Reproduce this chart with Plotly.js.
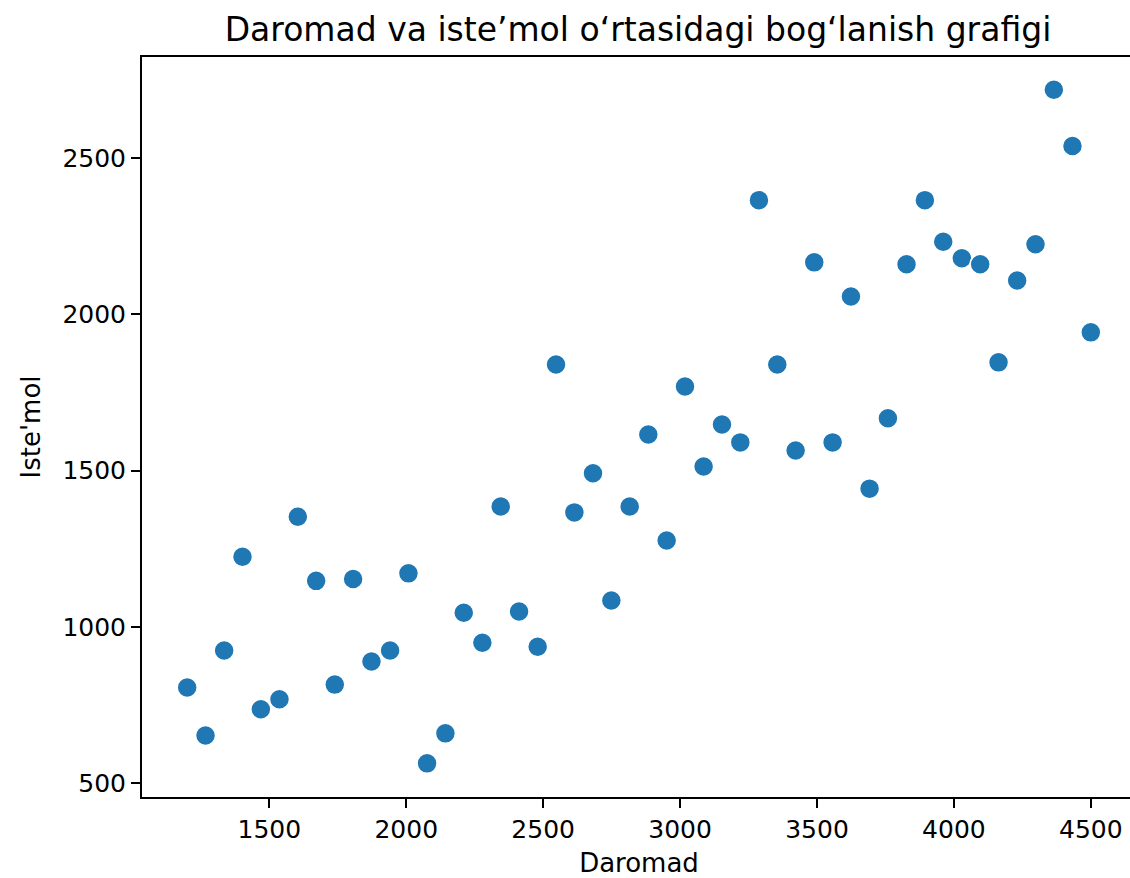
<!DOCTYPE html>
<html>
<head>
<meta charset="utf-8">
<script src="https://cdn.plot.ly/plotly-3.0.1.min.js"></script>
<style>
  html, body { margin: 0; padding: 0; overflow: hidden; background: #fff; }
  #chart { width: 1140px; height: 878px; }
</style>
</head>
<body>
<div id="chart"></div>
<script>
// Daromad (income) values
const daromad = [
  1200, 1267, 1335, 1402, 1469, 1537, 1604, 1671, 1739, 1806,
  1873, 1941, 2008, 2076, 2143, 2210, 2278, 2345, 2412, 2480,
  2547, 2614, 2682, 2749, 2816, 2884, 2951, 3018, 3086, 3153,
  3220, 3288, 3355, 3422, 3490, 3557, 3624, 3692, 3759, 3827,
  3894, 3961, 4029, 4096, 4163, 4231, 4298, 4365, 4433, 4500
];
// Iste'mol (consumption) values
const istemol = [
  806, 652, 924, 1224, 736, 768, 1352, 1147, 815, 1153,
  889, 924, 1171, 563, 659, 1045, 949, 1385, 1049, 936,
  1839, 1366, 1491, 1084, 1385, 1615, 1276, 1769, 1513, 1647,
  1590, 2365, 1839, 1564, 2166, 1590, 2057, 1442, 1667, 2160,
  2365, 2232, 2179, 2160, 1846, 2108, 2224, 2718, 2538, 1942
];
const xTicks = [1500, 2000, 2500, 3000, 3500, 4000, 4500];
const yTicks = [500, 1000, 1500, 2000, 2500];

const font = 'DejaVu Sans, sans-serif';

const trace = {
  type: 'scatter',
  mode: 'markers',
  x: daromad,
  y: istemol,
  marker: { color: '#1f77b4', size: 20, line: { color: '#ffffff', width: 1.5 } },
  hoverinfo: 'x+y'
};

const layout = {
  width: 1140,
  height: 878,
  margin: { l: 142, r: 4, t: 57, b: 81, pad: 0 },
  paper_bgcolor: '#ffffff',
  plot_bgcolor: '#ffffff',
  showlegend: false,
  font: { family: font, color: '#000000', size: 25 },
  title: {
    text: 'Daromad va iste’mol o‘rtasidagi bog‘lanish grafigi',
    font: { family: font, size: 33, color: '#000000' },
    x: 638 / 1140, xref: 'container', xanchor: 'center',
    y: 1 - 29 / 878, yref: 'container', yanchor: 'middle'
  },
  xaxis: {
    range: [1035, 4665],
    tickvals: xTicks,
    ticktext: xTicks.map(String),
    ticks: 'outside', ticklen: 9, tickwidth: 2, tickcolor: '#000',
    showline: true, mirror: true, linewidth: 2, linecolor: '#000',
    showgrid: false, zeroline: false,
    tickfont: { family: font, size: 25, color: '#000' },
    title: { text: 'Daromad', font: { family: font, size: 26, color: '#000' }, standoff: 14 },
    automargin: false
  },
  yaxis: {
    range: [455.4, 2823],
    tickvals: yTicks,
    ticktext: yTicks.map(String),
    ticks: 'outside', ticklen: 9, tickwidth: 2, tickcolor: '#000',
    showline: true, mirror: true, linewidth: 2, linecolor: '#000',
    showgrid: false, zeroline: false,
    tickfont: { family: font, size: 25, color: '#000' },
    title: { text: "Iste'mol", font: { family: font, size: 26, color: '#000' }, standoff: 14 },
    automargin: false
  }
};

Plotly.newPlot('chart', [trace], layout, { displayModeBar: false, staticPlot: true });
</script>
</body>
</html>
